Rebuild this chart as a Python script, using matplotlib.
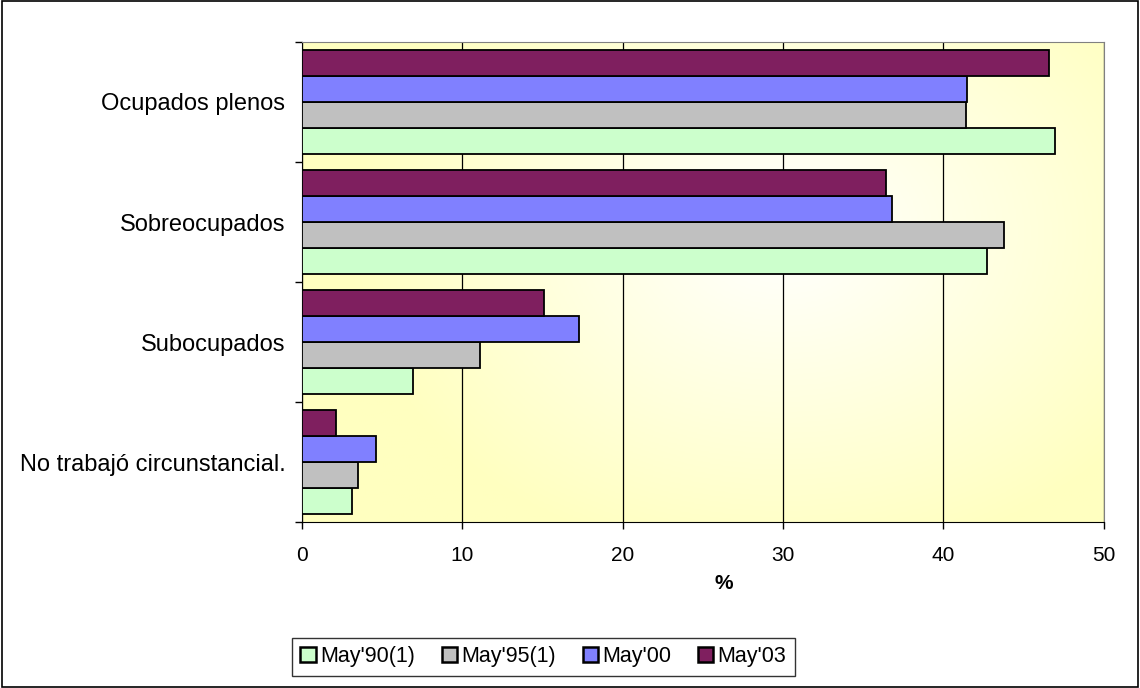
import numpy as np
import matplotlib
matplotlib.use('Agg')
import matplotlib.pyplot as plt
from matplotlib.colors import LinearSegmentedColormap

plt.rcParams['font.family'] = ['Liberation Sans', 'DejaVu Sans']

# datos
categorias = ['No trabajó circunstancial.', 'Subocupados', 'Sobreocupados', 'Ocupados plenos']
series = ["May'90(1)", "May'95(1)", "May'00", "May'03"]
may90 = [3.1, 6.9, 42.7, 47.0]
may95 = [3.5, 11.1, 43.8, 41.4]
may00 = [4.6, 17.3, 36.8, 41.5]
may03 = [2.1, 15.1, 36.4, 46.6]
colores = ['#CCFFCC', '#C0C0C0', '#8080FF', '#7F1F5F']
x_ticks = [0, 10, 20, 30, 40, 50]

fig = plt.figure(figsize=(11.4, 6.88), dpi=100)
ax = fig.add_axes([0.265, 0.241, 0.703, 0.698])

# fondo degradado
nx, ny = 400, 300
gx, gy = np.meshgrid(np.linspace(0, 1, nx), np.linspace(0, 1, ny))
r = np.sqrt(((gx - 0.6) / 0.55) ** 2 + ((gy - 0.4) / 0.7) ** 2)
r = np.clip(r, 0, 1)
cmap = LinearSegmentedColormap.from_list('fondo', ['#FFFFFF', '#FFFFE0', '#FFFFC0'])
ax.imshow(r, cmap=cmap, extent=[0, 50, -0.5, 3.5], aspect='auto', origin='upper', zorder=0)

y = np.arange(len(categorias))
h = 0.217
valores = [may90, may95, may00, may03]
for i, (vals, lab, c) in enumerate(zip(valores, series, colores)):
    off = (i - 1.5) * h
    ax.barh(y + off, vals, height=h, color=c, edgecolor='black', linewidth=1.3,
            label=lab, zorder=3)

ax.set_xlim(0, 50)
ax.set_ylim(-0.5, 3.5)
ax.set_xticks(x_ticks)
ax.set_xticklabels([str(t) for t in x_ticks], fontsize=15)
ax.set_yticks(y)
ax.set_yticklabels(categorias, fontsize=17)
ax.set_yticks(np.arange(-0.5, 4, 1), minor=True)
ax.tick_params(axis='y', which='major', length=0, pad=12)
ax.tick_params(axis='y', which='minor', length=5, width=1, direction='out')
ax.tick_params(axis='x', length=5, width=1, direction='out', pad=12)
ax.grid(axis='x', color='black', linewidth=0.9, zorder=1)
ax.set_axisbelow(True)
ax.set_xlabel('%', fontsize=15, fontweight='bold')
ax.xaxis.set_label_coords(0.526, -0.108)

for s in ['top', 'right']:
    ax.spines[s].set_color('#808080')
for s in ['left', 'bottom']:
    ax.spines[s].set_color('black')

leg = ax.legend(loc='upper left', bbox_to_anchor=(0.256, 0.073), bbox_transform=fig.transFigure,
                ncol=4, fontsize=15.5, borderaxespad=0,
                frameon=True, fancybox=False, edgecolor='black', handlelength=0.7,
                handleheight=0.7, handletextpad=0.2, columnspacing=1.25, borderpad=0.4)
leg.get_frame().set_linewidth(1)
for hnd in leg.legend_handles:
    hnd.set_linewidth(1.8)

fig.patches.append(plt.Rectangle((0.002, 0.002), 0.996, 0.996, transform=fig.transFigure,
                                 fill=False, edgecolor='black', linewidth=1.2))

fig.savefig('out.png', dpi=100)
